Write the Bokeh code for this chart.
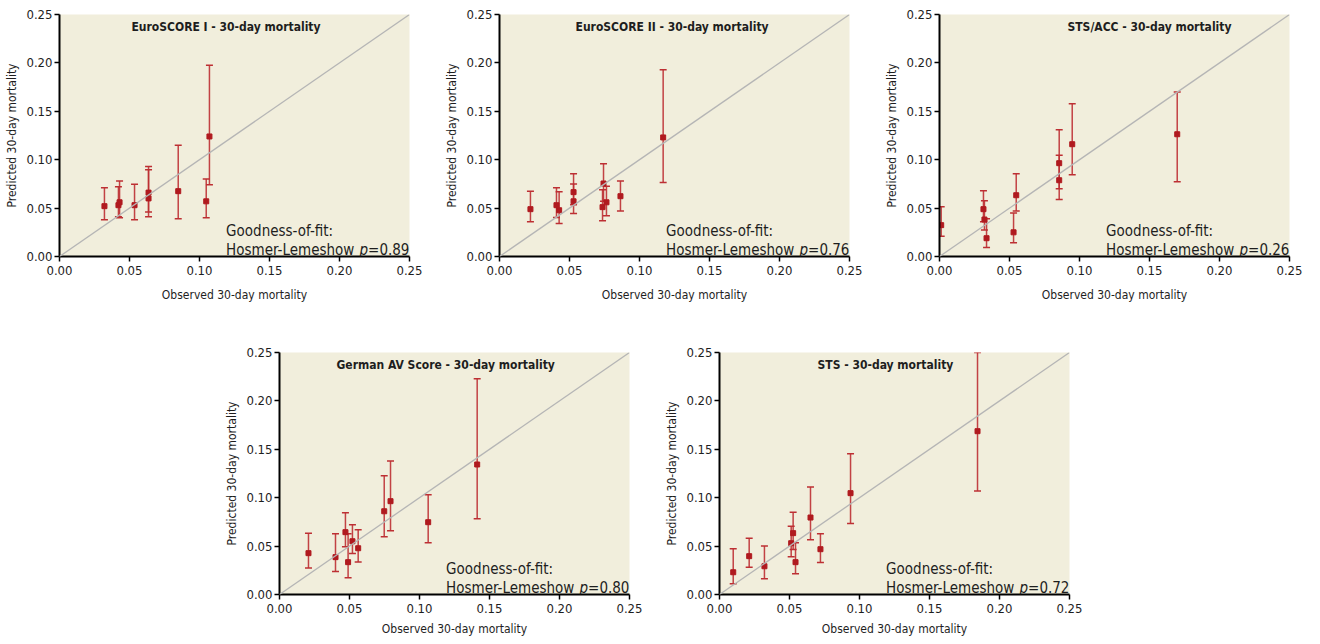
from bokeh.plotting import figure
from bokeh.models import (Range1d, FixedTicker, PrintfTickFormatter, Slope, Whisker,
                          TeeHead, ColumnDataSource, Label, Spacer)
from bokeh.layouts import row, column
from bokeh.embed import file_html
from bokeh.resources import INLINE

# ---------------- data ----------------
titles = ["EuroSCORE I - 30-day  mortality", "EuroSCORE II - 30-day  mortality",
          "STS/ACC - 30-day  mortality", "German AV Score - 30-day  mortality",
          "STS - 30-day  mortality"]
p_values = ["0.89", "0.76", "0.26", "0.80", "0.72"]
tick_values = [0.0, 0.05, 0.10, 0.15, 0.20, 0.25]

euro1_obs  = [0.0321, 0.0421, 0.0429, 0.0536, 0.0636, 0.0636, 0.0848, 0.1048, 0.1071]
euro1_pred = [0.0520, 0.0530, 0.0560, 0.0530, 0.0660, 0.0600, 0.0675, 0.0570, 0.1240]
euro1_lo   = [0.0379, 0.0410, 0.0400, 0.0379, 0.0460, 0.0410, 0.0390, 0.0400, 0.0740]
euro1_hi   = [0.0710, 0.0720, 0.0780, 0.0747, 0.0930, 0.0895, 0.1150, 0.0800, 0.1977]

euro2_obs  = [0.0221, 0.0407, 0.0426, 0.0529, 0.0529, 0.0736, 0.0743, 0.0764, 0.0864, 0.1169]
euro2_pred = [0.0489, 0.0530, 0.0478, 0.0665, 0.0570, 0.0510, 0.0754, 0.0560, 0.0623, 0.1230]
euro2_lo   = [0.0358, 0.0403, 0.0340, 0.0534, 0.0444, 0.0370, 0.0570, 0.0420, 0.0470, 0.0764]
euro2_hi   = [0.0675, 0.0710, 0.0668, 0.0854, 0.0750, 0.0690, 0.0958, 0.0726, 0.0780, 0.1930]

stsacc_obs  = [0.0012, 0.0314, 0.0321, 0.0336, 0.0529, 0.0548, 0.0855, 0.0855, 0.0948, 0.1698]
stsacc_pred = [0.0324, 0.0489, 0.0382, 0.0189, 0.0250, 0.0633, 0.0964, 0.0788, 0.1160, 0.1263]
stsacc_lo   = [0.0210, 0.0358, 0.0275, 0.0093, 0.0141, 0.0470, 0.0700, 0.0589, 0.0844, 0.0772]
stsacc_hi   = [0.0513, 0.0678, 0.0575, 0.0390, 0.0450, 0.0854, 0.1310, 0.1047, 0.1577, 0.1700]

german_obs  = [0.0207, 0.0400, 0.0471, 0.0490, 0.0521, 0.0562, 0.0748, 0.0793, 0.1062, 0.1412]
german_pred = [0.0427, 0.0386, 0.0644, 0.0334, 0.0550, 0.0478, 0.0860, 0.0964, 0.0747, 0.1343]
german_lo   = [0.0275, 0.0238, 0.0492, 0.0172, 0.0424, 0.0337, 0.0596, 0.0658, 0.0534, 0.0782]
german_hi   = [0.0633, 0.0627, 0.0844, 0.0627, 0.0720, 0.0668, 0.1226, 0.1380, 0.1030, 0.2228]

sts_obs  = [0.0098, 0.0212, 0.0321, 0.0512, 0.0526, 0.0543, 0.0650, 0.0721, 0.0936, 0.1843]
sts_pred = [0.0230, 0.0396, 0.0292, 0.0530, 0.0634, 0.0334, 0.0795, 0.0468, 0.1047, 0.1687]
sts_lo   = [0.0110, 0.0282, 0.0162, 0.0390, 0.0465, 0.0214, 0.0565, 0.0330, 0.0733, 0.1070]
sts_hi   = [0.0472, 0.0580, 0.0500, 0.0706, 0.0850, 0.0534, 0.1110, 0.0627, 0.1453, 0.2500]

# ---------------- style ----------------
FONT = "DejaVu Sans Condensed, Liberation Sans Narrow, Roboto Condensed, Roboto"
BG = "#f1eedc"
MARK = "#b01a1f"
BAR = "#bd2f33"
TXT = "#1e1e1e"
title_x = [0.0514, 0.0543, 0.0914, 0.0407, 0.0700]


def make_panel(obs, pred, lo, hi, title, pval, tx, top, bottom, xlab_standoff):
    p = figure(frame_width=350, frame_height=242,
               x_range=Range1d(0, 0.25), y_range=Range1d(0, 0.25),
               output_backend="svg", toolbar_location=None,
               min_border_left=59, min_border_right=31,
               min_border_top=top, min_border_bottom=bottom,
               background_fill_color=BG, border_fill_color="white",
               outline_line_color=None)
    p.grid.visible = False
    for ax in (p.xaxis[0], p.yaxis[0]):
        ax.ticker = FixedTicker(ticks=tick_values)
        ax.formatter = PrintfTickFormatter(format="%.2f")
        ax.axis_line_color = "black"
        ax.axis_line_width = 2
        ax.major_tick_line_color = "black"
        ax.major_tick_line_width = 1.5
        ax.major_tick_in = 0
        ax.major_tick_out = 5
        ax.minor_tick_line_color = None
        ax.major_label_text_font = FONT
        ax.major_label_text_font_size = "13px"
        ax.major_label_text_color = TXT
        ax.major_label_standoff = 2
        ax.axis_label_text_font = FONT
        ax.axis_label_text_font_size = "12px"
        ax.axis_label_text_font_style = "normal"
        ax.axis_label_text_color = TXT
        ax.axis_label_standoff = 4
    p.xaxis.axis_label = "Observed 30-day mortality"
    p.yaxis.axis_label = "Predicted 30-day mortality"
    p.xaxis.major_label_standoff = 4
    p.xaxis.axis_label_standoff = xlab_standoff

    p.add_layout(Slope(gradient=1, y_intercept=0, line_color="#b5b5b5", line_width=1.3))

    src = ColumnDataSource(dict(x=obs, y=pred, lo=lo, hi=hi))
    w = Whisker(source=src, base="x", upper="hi", lower="lo",
                line_color=BAR, line_width=1.5, line_alpha=0.9,
                upper_head=TeeHead(size=7, line_color=BAR, line_width=1.5),
                lower_head=TeeHead(size=7, line_color=BAR, line_width=1.5))
    p.add_layout(w)
    p.scatter("x", "y", source=src, marker="square", size=5,
              fill_color=MARK, line_color=MARK)

    p.add_layout(Label(x=tx, y=0.2376, text=title, text_font=FONT,
                       text_font_size="12px", text_font_style="bold",
                       text_color=TXT, text_baseline="alphabetic"))
    gx = 0.119
    p.add_layout(Label(x=gx, y=0.0261, text="Goodness-of-fit:", text_font=FONT,
                       text_font_size="15px", text_color=TXT, text_baseline="alphabetic"))
    p.add_layout(Label(x=gx, y=0.0072, text="Hosmer-Lemeshow", text_font=FONT,
                       text_font_size="15px", text_color=TXT, text_baseline="alphabetic"))
    p.add_layout(Label(x=gx, y=0.0072, x_offset=133.5, text="p", text_font=FONT,
                       text_font_size="15px", text_font_style="italic",
                       text_color=TXT, text_baseline="alphabetic"))
    p.add_layout(Label(x=gx, y=0.0072, x_offset=142, text="=" + pval, text_font=FONT,
                       text_font_size="15px", text_color=TXT, text_baseline="alphabetic"))
    return p


data = [(euro1_obs, euro1_pred, euro1_lo, euro1_hi),
        (euro2_obs, euro2_pred, euro2_lo, euro2_hi),
        (stsacc_obs, stsacc_pred, stsacc_lo, stsacc_hi),
        (german_obs, german_pred, german_lo, german_hi),
        (sts_obs, sts_pred, sts_lo, sts_hi)]

panels = []
for i, (o, pr, lo, hi) in enumerate(data):
    top, bottom, xs = (14, 81, 10) if i < 3 else (15, 46, 6)
    panels.append(make_panel(o, pr, lo, hi, titles[i], p_values[i], title_x[i], top, bottom, xs))

layout = column(row(panels[0], panels[1], panels[2]),
                row(Spacer(width=220, height=10), panels[3], panels[4]))

open("out.html", "w").write(file_html(layout, INLINE))
